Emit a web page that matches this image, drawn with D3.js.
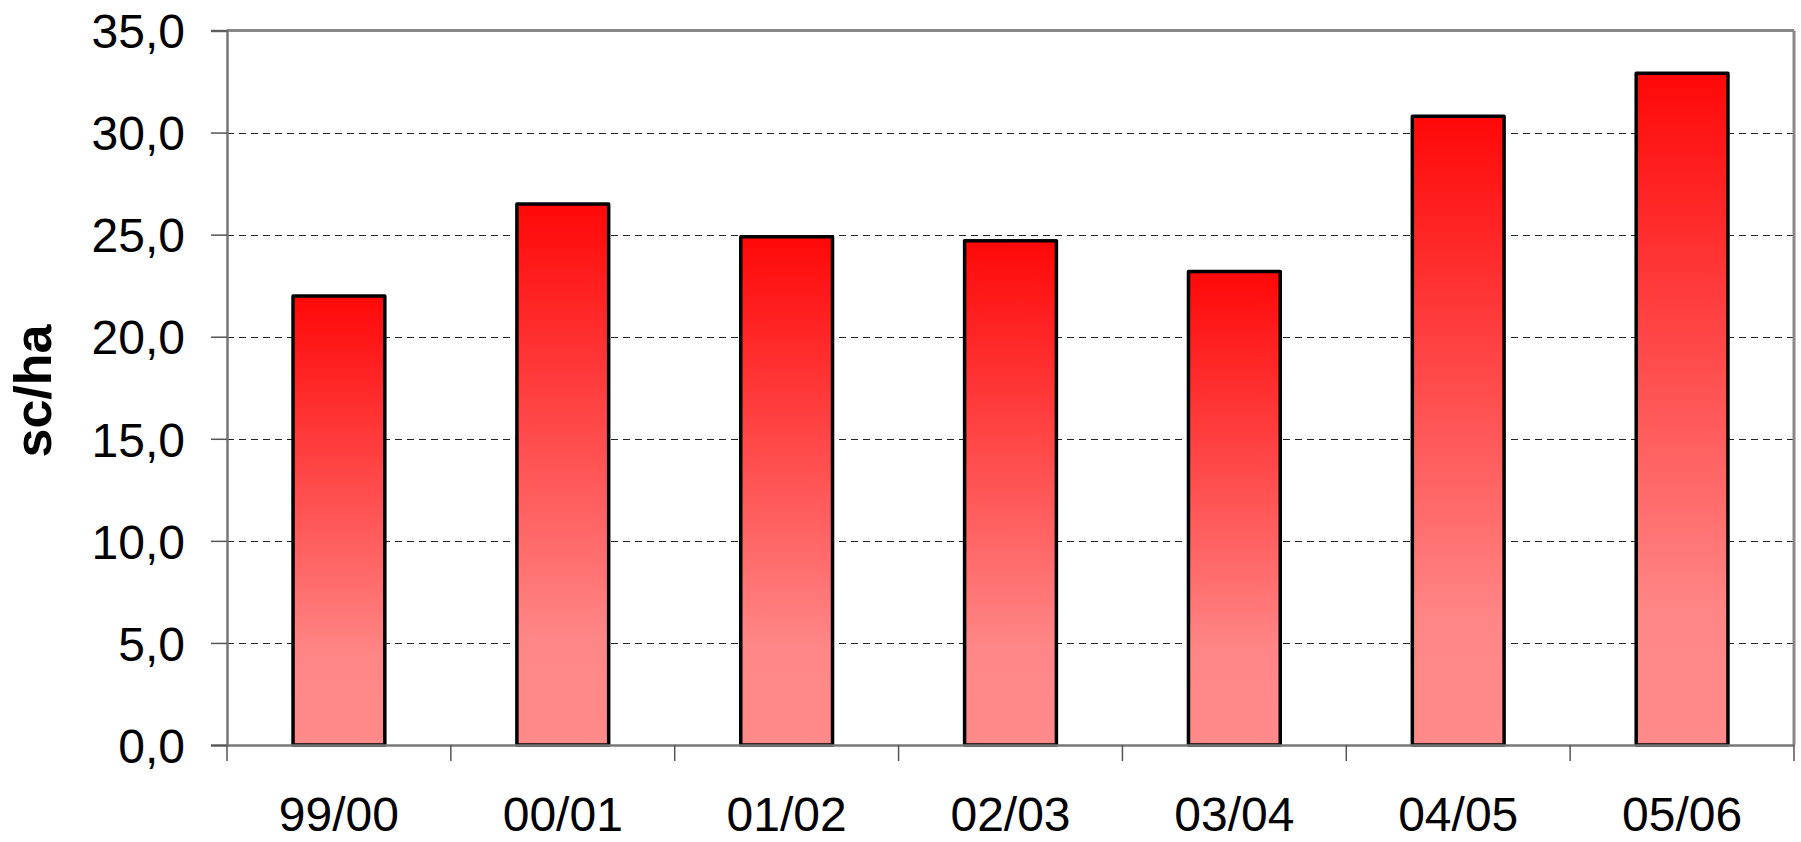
<!DOCTYPE html>
<html>
<head>
<meta charset="utf-8">
<script src="https://cdn.jsdelivr.net/npm/d3@7"></script>
<style>
  html, body { margin: 0; padding: 0; background: #fff; }
  svg { display: block; }
</style>
</head>
<body>
<svg id="chart" width="1801" height="842"></svg>
<script>
const categories = ["99/00", "00/01", "01/02", "02/03", "03/04", "04/05", "05/06"];
const values = [22.0, 26.5, 24.9, 24.7, 23.2, 30.8, 32.9];
const yTicks = [0, 5, 10, 15, 20, 25, 30, 35];
const yTitle = "sc/ha";

(function () {
const svg = d3.select("#chart");
const pL = 227, pR = 1794, pT = 30.5, pB = 745;

const x = d3.scaleBand().domain(categories).range([pL, pR]).padding(0);
const y = d3.scaleLinear().domain([0, 35]).range([pB, pT]);
const barW = x.bandwidth() * 0.41;

const defs = svg.append("defs");
const grad = defs.append("linearGradient")
  .attr("id", "barGrad").attr("x1", 0).attr("y1", 0).attr("x2", 0).attr("y2", 1);
grad.append("stop").attr("offset", "0%").attr("stop-color", "#ff0808");
grad.append("stop").attr("offset", "80%").attr("stop-color", "#ff8686");
grad.append("stop").attr("offset", "100%").attr("stop-color", "#ff8a8a");

// gridlines
svg.append("g").selectAll("line")
  .data(yTicks.filter(d => d > 0 && d < 35))
  .join("line")
  .attr("x1", pL).attr("x2", pR)
  .attr("y1", d => Math.round(y(d)) + 0.5).attr("y2", d => Math.round(y(d)) + 0.5)
  .attr("stroke", "#222").attr("stroke-width", 1.2)
  .attr("stroke-dasharray", "7,5");

// plot border top and right
svg.append("line").attr("x1", pL).attr("x2", pR).attr("y1", pT).attr("y2", pT)
  .attr("stroke", "#888").attr("stroke-width", 3);
svg.append("line").attr("x1", pR).attr("x2", pR).attr("y1", pT).attr("y2", pB)
  .attr("stroke", "#888").attr("stroke-width", 3);

// bars
svg.append("g").selectAll("rect")
  .data(values)
  .join("rect")
  .attr("x", (d, i) => x(categories[i]) + (x.bandwidth() - barW) / 2)
  .attr("width", barW)
  .attr("y", d => y(d))
  .attr("height", d => pB - y(d))
  .attr("fill", "url(#barGrad)")
  .attr("stroke", "#000").attr("stroke-width", 3.5)
  .attr("stroke-linejoin", "round");

// y axis
const yAxis = d3.axisLeft(y).tickValues(yTicks).tickSize(16)
  .tickFormat(d => d3.format(".1f")(d).replace(".", ","));
const gy = svg.append("g").attr("transform", `translate(${pL},0)`).call(yAxis);
gy.select(".domain").attr("stroke", "#777").attr("stroke-width", 2.5);
gy.selectAll(".tick line").attr("stroke", "#555").attr("stroke-width", 1.5);
gy.selectAll(".tick text")
  .attr("x", -42)
  .attr("dy", "0.36em")
  .attr("fill", "#000")
  .style("font-family", "'Liberation Sans', Arial, sans-serif")
  .style("font-size", "48px");

// x axis
const xAxis = d3.axisBottom(x).tickSize(0).tickFormat(d => d);
const gx = svg.append("g").attr("transform", `translate(0,${pB})`).call(xAxis);
gx.select(".domain").attr("stroke", "#777").attr("stroke-width", 2.5);
gx.selectAll(".tick text")
  .attr("y", 86)
  .attr("dy", 0)
  .attr("fill", "#000")
  .style("font-family", "'Liberation Sans', Arial, sans-serif")
  .style("font-size", "48px");
// x boundary ticks
const bounds = categories.map(c => x(c)).concat([pR]);
svg.append("g").selectAll("line")
  .data(bounds)
  .join("line")
  .attr("x1", d => d).attr("x2", d => d)
  .attr("y1", pB).attr("y2", pB + 16)
  .attr("stroke", "#555").attr("stroke-width", 1.5);

// y title
svg.append("text")
  .attr("transform", `translate(51,391) rotate(-90)`)
  .attr("text-anchor", "middle")
  .style("font-family", "'Liberation Sans', Arial, sans-serif")
  .style("font-weight", "bold")
  .style("font-size", "52px")
  .attr("fill", "#000")
  .text(yTitle);
})();
</script>
</body>
</html>
